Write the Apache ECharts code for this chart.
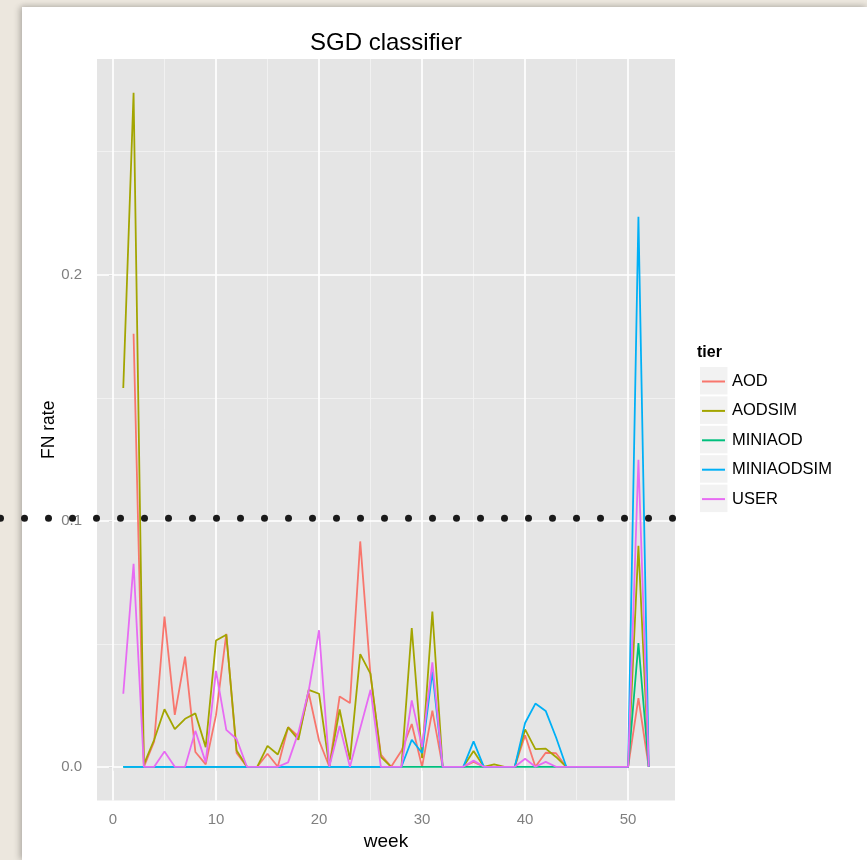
<!DOCTYPE html>
<html>
<head>
<meta charset="utf-8">
<script src="https://cdn.jsdelivr.net/npm/echarts@6/dist/echarts.min.js"></script>
<style>
  html, body { margin: 0; padding: 0; }
  body { width: 867px; height: 860px; background: #ECE7DE; position: relative; overflow: hidden; }
  #card { position: absolute; left: 22px; top: 7px; width: 845px; height: 853px; background: #ffffff;
          box-shadow: -3px 0 6px rgba(0,0,0,0.18), 0 -2px 5px rgba(0,0,0,0.10); }
  #chart { position: absolute; left: 0; top: 0; width: 867px; height: 860px; }
</style>
</head>
<body>
<div id="card"></div>
<div id="chart"></div>
<script>
// ---- data ----
const weeks = [1,2,3,4,5,6,7,8,9,10,11,12,13,14,15,16,17,18,19,20,21,22,23,24,25,26,
               27,28,29,30,31,32,33,34,35,36,37,38,39,40,41,42,43,44,45,46,47,48,49,50,51,52];
const tiers = ['AOD', 'AODSIM', 'MINIAOD', 'MINIAODSIM', 'USER'];
const AOD = [null,0.176,0,0.0103,0.0611,0.0211,0.0448,0.006,0.001,0.021,0.054,0.0056,0,0,0.0053,0,
             0.0161,0.0123,0.030,0.0107,0,0.0286,0.0259,0.0916,0.037,0.005,0,0.0065,0.0174,0,0.0228,0,
             0,0,0.002,0,0,0,0,0.0128,0,0.0057,0.0055,0,0,0,0,0,0,0,0.0279,0];
const AODSIM = [0.154,0.274,0.001,0.011,0.0234,0.0153,0.0195,0.0217,0.008,0.0513,0.0537,0.0066,0,0,
                0.0085,0.005,0.016,0.011,0.0313,0.0297,0,0.0233,0.0029,0.0458,0.0378,0.004,0,0,0.0564,
                0.0035,0.0631,0,0,0,0.0064,0,0.001,0,0,0.0152,0.0072,0.0074,0.004,0,0,0,0,0,0,0,0.0898,0];
const MINIAOD = [0,0,0,0,0,0,0,0,0,0,0,0,0,0,0,0,0,0,0,0,0,0,0,0,0,0,
                 0,0,0,0,0,0,0,0,0,0,0,0,0,0,0,0,0,0,0,0,0,0,0,0,0.0503,0];
const MINIAODSIM = [0,0,0,0,0,0,0,0,0,0,0,0,0,0,0,0,0,0,0,0,0,0,0,0,0,0,
                    0,0,0.011,0.0056,0.0387,0,0,0,0.0103,0,0,0,0,0.0178,0.0257,0.0227,0.012,0,0,0,0,0,0,0,0.2236,0];
const USER = [0.0297,0.0825,0,0,0.0062,0,0,0.0146,0.0018,0.039,0.015,0.0113,0,0,0,0,0.0018,0.014,0.031,
              0.0555,0,0.0166,0,0.0157,0.0313,0,0,0,0.027,0.008,0.0425,0,0,0,0.0025,0,0,0,0,0.0033,0,
              0.002,0,0,0,0,0,0,0,0,0.1248,0];
const xTicks = [0, 10, 20, 30, 40, 50];
const xMinor = [5, 15, 25, 35, 45];
const yTicks = [0, 0.1, 0.2];
const yMinor = [0.05, 0.15, 0.25];
const THRESHOLD = 0.101;

// ---- styling ----
const colors = ['#F8766D', '#A3A500', '#00BF7D', '#00B0F6', '#E76BF3'];
const FONT = '"Liberation Sans", Arial, Helvetica, sans-serif';
const GRID = { left: 97, top: 59, width: 578, height: 741.5 };
const LEG = { left: 702, top: 373, pitch: 29.4, gap: 12.4, keyX: 700, keyY: 367, keyW: 27.5, keyH: 27.5 };

const seriesValues = [AOD, AODSIM, MINIAOD, MINIAODSIM, USER];

const major = { color: '#FFFFFF', width: 1.7, type: 'solid' };
const minor = { color: '#F2F2F2', width: 0.9, type: 'solid' };
const gridLines = []
  .concat(yMinor.map(v => ({ yAxis: v, lineStyle: minor })))
  .concat(xMinor.map(v => ({ xAxis: v, lineStyle: minor })))
  .concat(yTicks.map(v => ({ yAxis: v, lineStyle: major })))
  .concat(xTicks.map(v => ({ xAxis: v, lineStyle: major })));

const series = tiers.map((name, i) => {
  const s = {
    name: name,
    type: 'line',
    data: weeks.map((w, k) => [w, seriesValues[i][k]]),
    symbol: 'none',
    showSymbol: false,
    connectNulls: false,
    lineStyle: { width: 1.8, color: colors[i] },
    itemStyle: { color: colors[i] },
    emphasis: { disabled: true },
    animation: false,
    z: 3
  };
  if (i === 0) {
    s.markLine = {
      silent: true, symbol: ['none', 'none'], label: { show: false },
      animation: false, z: 1, data: gridLines
    };
  }
  return s;
});

const chart = echarts.init(document.getElementById('chart'), null, { renderer: 'canvas' });
chart.setOption({
  backgroundColor: 'transparent',
  animation: false,
  textStyle: { fontFamily: FONT },
  title: [
    { text: 'SGD classifier', left: 386, top: 31, textAlign: 'center', padding: 0,
      textStyle: { fontFamily: FONT, fontSize: 24, fontWeight: 'normal', color: '#000000' } },
    { text: 'tier', left: 697, top: 345, padding: 0,
      textStyle: { fontFamily: FONT, fontSize: 16, fontWeight: 'bold', color: '#000000' } }
  ],
  grid: Object.assign({ containLabel: false, outerBoundsMode: 'none',
                        show: true, backgroundColor: '#E5E5E5', borderWidth: 0 }, GRID),
  legend: {
    data: tiers, orient: 'vertical', left: LEG.left, top: LEG.top,
    itemWidth: 23, itemHeight: 16, itemGap: LEG.gap, padding: 0,
    icon: 'path://M0,7 L23,7 L23,9 L0,9 Z',
    selectedMode: false, z: 5,
    textStyle: { fontFamily: FONT, fontSize: 16.5, color: '#000000', lineHeight: 16, padding: [0, 0, 0, 2] }
  },
  xAxis: {
    type: 'value', min: -1.55, max: 54.55,
    name: 'week', nameLocation: 'middle', nameGap: 31,
    nameTextStyle: { fontFamily: FONT, fontSize: 19, color: '#000000' },
    axisLine: { show: false },
    axisTick: { show: true, customValues: xTicks, length: 4, lineStyle: { color: '#7F7F7F', width: 1 } },
    axisLabel: { customValues: xTicks, color: '#7F7F7F', fontSize: 15, margin: 12, fontFamily: FONT },
    splitLine: { show: false }, minorSplitLine: { show: false }
  },
  yAxis: {
    type: 'value', min: -0.0137, max: 0.2877,
    name: 'FN rate', nameLocation: 'middle', nameGap: 39, nameMoveOverlap: false,
    nameTextStyle: { fontFamily: FONT, fontSize: 17.5, color: '#000000' },
    axisLine: { show: false },
    axisTick: { show: true, customValues: yTicks, length: 4, lineStyle: { color: '#7F7F7F', width: 1 } },
    axisLabel: { customValues: yTicks, color: '#7F7F7F', fontSize: 15, margin: 15, fontFamily: FONT,
                 formatter: v => v.toFixed(1) },
    splitLine: { show: false }, minorSplitLine: { show: false }
  },
  series: series
});

// legend key backgrounds and threshold dots
const gfx = [];
tiers.forEach((t, i) => {
  gfx.push({ type: 'rect', z: 1, silent: true,
             shape: { x: LEG.keyX, y: LEG.keyY + i * LEG.pitch, width: LEG.keyW, height: LEG.keyH },
             style: { fill: '#F2F2F2' } });
});
const yTh = chart.convertToPixel({ yAxisIndex: 0 }, THRESHOLD);
for (let k = 0; k <= 28; k++) {
  gfx.push({ type: 'circle', z: 10, silent: true,
             shape: { cx: 0.5 + k * 24.0, cy: yTh, r: 3.5 },
             style: { fill: '#1A1A1A' } });
}
chart.setOption({ graphic: gfx });
</script>
</body>
</html>
